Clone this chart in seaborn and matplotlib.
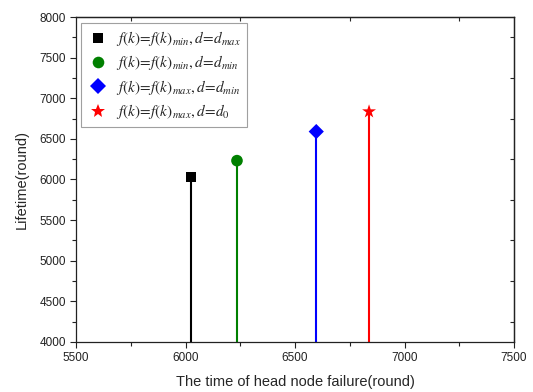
import numpy as np
import pandas as pd
import matplotlib
matplotlib.use("Agg")
import matplotlib.pyplot as plt
import seaborn as sns

# data
cases = [
    r"$f(k)\!=\!f(k)_{min},d\!=\!d_{max}$",
    r"$f(k)\!=\!f(k)_{min},d\!=\!d_{min}$",
    r"$f(k)\!=\!f(k)_{max},d\!=\!d_{min}$",
    r"$f(k)\!=\!f(k)_{max},d\!=\!d_{0}$",
]
failure_time = [6025, 6235, 6597, 6838]
lifetime = [6027, 6232, 6590, 6836]
colors = ["#000000", "#008000", "#0000FF", "#FF0000"]
markers = ["s", "o", "D", "*"]
sizes = [50, 70, 60, 110]

df = pd.DataFrame({"case": cases, "x": failure_time, "y": lifetime})

sns.set_style("ticks")
plt.rcParams["font.family"] = ["Liberation Sans", "DejaVu Sans"]
plt.rcParams["mathtext.fontset"] = "stix"

fig = plt.figure(figsize=(5.33, 3.92), dpi=100)
ax = fig.add_axes([0.1426, 0.1276, 0.8218, 0.829])

# stems from the bottom of the axis up to each value
ax.vlines(df["x"], 4000, df["y"], colors=colors, linewidth=1.5, zorder=2)

sns.scatterplot(
    data=df, x="x", y="y",
    hue="case", style="case",
    palette=dict(zip(cases, colors)),
    markers=dict(zip(cases, markers)),
    size="case", sizes=dict(zip(cases, sizes)),
    edgecolor="none", linewidth=0,
    ax=ax, zorder=3, legend="full",
)

ax.set_xlim(5500, 7500)
ax.set_ylim(4000, 8000)
ax.set_xticks(np.arange(5500, 7501, 500))
ax.set_yticks(np.arange(4000, 8001, 500))
ax.set_xticks(np.arange(5750, 7500, 500), minor=True)
ax.set_yticks(np.arange(4250, 8000, 500), minor=True)
ax.tick_params(which="major", direction="out", length=4, width=0.8,
               labelsize=8.5, colors="#222222", pad=3)
ax.tick_params(which="minor", direction="out", length=3, width=0.8,
               colors="#222222")

# top and right axes: only inward ticks between the majors
top = ax.secondary_xaxis("top")
top.set_xticks(np.arange(5750, 7500, 500))
top.tick_params(direction="in", length=3, width=0.8, labeltop=False)
right = ax.secondary_yaxis("right")
right.set_yticks(np.arange(4250, 8000, 500))
right.tick_params(direction="in", length=3, width=0.8, labelright=False)

for sp in ax.spines.values():
    sp.set_visible(True)
    sp.set_linewidth(0.9)
    sp.set_color("#222222")
for s in [top, right]:
    for sp in s.spines.values():
        sp.set_linewidth(0.9)
        sp.set_color("#222222")

ax.set_xlabel("The time of head node failure(round)", fontsize=10.5, labelpad=8)
ax.set_ylabel("Lifetime(round)", fontsize=10.5, labelpad=8)

handles, labels = ax.get_legend_handles_labels()
leg = ax.legend(handles, labels, loc="upper left",
                bbox_to_anchor=(0.011, 0.982), borderaxespad=0, fontsize=11,
                frameon=True, fancybox=False, edgecolor="#888888",
                handletextpad=0.5, labelspacing=0.35, borderpad=0.4,
                handlelength=1.4, markerscale=1.0)
leg.get_frame().set_linewidth(0.8)

fig.savefig("out.png", dpi=100)
